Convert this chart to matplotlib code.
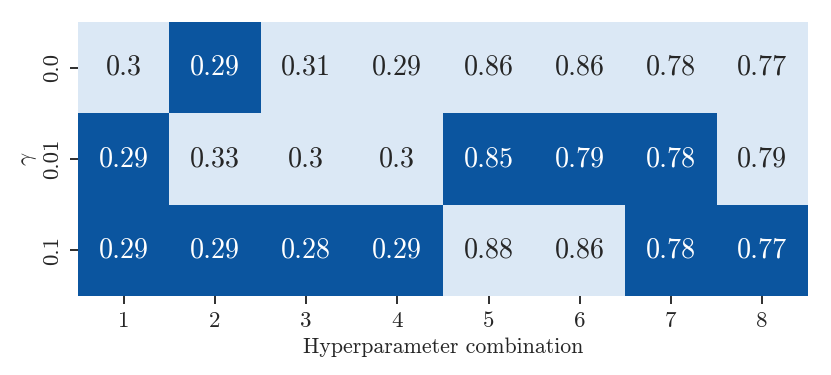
import numpy as np
import matplotlib
matplotlib.use("Agg")
import matplotlib.pyplot as plt
from matplotlib.colors import ListedColormap

# data
gammas = ["0.0", "0.01", "0.1"]
combos = ["1", "2", "3", "4", "5", "6", "7", "8"]
scores = np.array([
    [0.30, 0.29, 0.31, 0.29, 0.86, 0.86, 0.78, 0.77],
    [0.29, 0.33, 0.30, 0.30, 0.85, 0.79, 0.78, 0.79],
    [0.29, 0.29, 0.28, 0.29, 0.88, 0.86, 0.78, 0.77],
])
# 1 = highlighted (best) cell
best = np.array([
    [0, 1, 0, 0, 0, 0, 0, 0],
    [1, 0, 0, 0, 1, 1, 1, 0],
    [1, 1, 1, 1, 0, 0, 1, 1],
])

plt.rcParams["font.family"] = "serif"
plt.rcParams["font.serif"] = ["cmr10"]
plt.rcParams["mathtext.fontset"] = "cm"
plt.rcParams["axes.formatter.use_mathtext"] = True

light = "#dbe8f5"
dark = "#0b559f"
cmap = ListedColormap([light, dark])

fig = plt.figure(figsize=(8.31 / 1.5, 3.75 / 1.5), dpi=150)
ax = fig.add_axes([0.094, 0.211, 0.878, 0.730])

ax.pcolormesh(best, cmap=cmap, vmin=0, vmax=1, edgecolors="face", linewidth=0.3)
ax.set_xlim(0, len(combos))
ax.set_ylim(len(gammas), 0)

for i in range(len(gammas)):
    for j in range(len(combos)):
        col = "white" if best[i, j] else "#262626"
        ax.text(j + 0.5, i + 0.5, "%g" % scores[i, j], ha="center", va="center",
                fontsize=13.5, color=col)

ax.set_xticks(np.arange(len(combos)) + 0.5)
ax.set_xticklabels(combos)
ax.set_yticks(np.arange(len(gammas)) + 0.5)
ax.set_yticklabels(gammas, rotation=90, va="center")
ax.tick_params(labelsize=11, length=4, width=0.9, color="#262626", labelcolor="#262626")
for s in ax.spines.values():
    s.set_visible(False)

ax.set_xlabel("Hyperparameter combination", fontsize=10.5, color="#262626", labelpad=3)
ax.set_ylabel(r"$\gamma$", fontsize=11, color="#262626", labelpad=2)

fig.savefig("out.png", dpi=150)
